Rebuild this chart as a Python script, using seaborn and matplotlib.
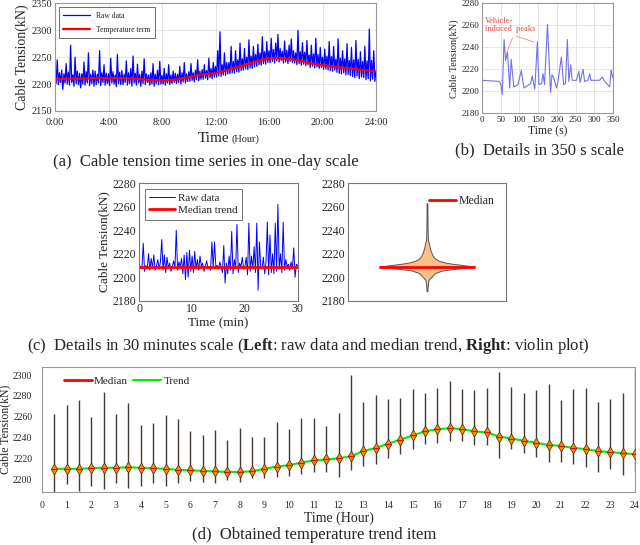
import numpy as np
import seaborn as sns
import matplotlib.pyplot as plt
from matplotlib.lines import Line2D

sns.set_style("white")
plt.rcParams['font.family'] = ['Liberation Serif', 'DejaVu Serif']
plt.rcParams['mathtext.fontset'] = 'custom'
plt.rcParams['mathtext.rm'] = 'Liberation Serif'
plt.rcParams['mathtext.bf'] = 'Liberation Serif:bold'

# ---- (a) one day, 5-minute samples ----
a_raw = [
    2218, 2201, 2245, 2199, 2221, 2203, 2226, 2190, 2219, 2202, 2238, 2200,
    2222, 2198, 2272, 2203, 2217, 2196, 2250, 2201, 2224, 2199, 2220, 2193,
    2219, 2200, 2241, 2198, 2223, 2202, 2258, 2197, 2218, 2201, 2226, 2196,
    2224, 2199, 2218, 2202, 2262, 2197, 2221, 2203, 2236, 2198, 2220, 2201,
    2219, 2197, 2248, 2202, 2223, 2200, 2217, 2195, 2255, 2201, 2222, 2199,
    2225, 2199, 2218, 2203, 2243, 2198, 2221, 2201, 2229, 2196, 2252, 2202,
    2220, 2198, 2237, 2202, 2218, 2196, 2224, 2201, 2247, 2199, 2219, 2203,
    2217, 2198, 2221, 2200, 2238, 2196, 2218, 2201, 2226, 2199, 2242, 2200,
    2216, 2200, 2229, 2198, 2219, 2202, 2236, 2199, 2217, 2201, 2224, 2203,
    2220, 2201, 2218, 2203, 2233, 2200, 2221, 2204, 2240, 2202, 2219, 2205,
    2223, 2205, 2238, 2207, 2221, 2204, 2226, 2208, 2245, 2206, 2224, 2209,
    2227, 2209, 2236, 2211, 2225, 2208, 2248, 2212, 2229, 2210, 2240, 2213,
    2233, 2213, 2262, 2215, 2297, 2214, 2236, 2217, 2258, 2216, 2240, 2219,
    2240, 2219, 2270, 2221, 2242, 2220, 2262, 2223, 2245, 2222, 2276, 2225,
    2247, 2226, 2266, 2228, 2250, 2227, 2282, 2230, 2252, 2229, 2270, 2232,
    2255, 2233, 2274, 2236, 2258, 2235, 2288, 2238, 2260, 2237, 2279, 2240,
    2262, 2240, 2285, 2242, 2264, 2239, 2276, 2243, 2292, 2241, 2266, 2244,
    2261, 2239, 2280, 2241, 2263, 2238, 2272, 2242, 2284, 2240, 2262, 2239,
    2258, 2236, 2300, 2238, 2260, 2235, 2277, 2237, 2259, 2234, 2281, 2236,
    2254, 2231, 2272, 2233, 2256, 2230, 2285, 2232, 2255, 2229, 2268, 2231,
    2250, 2227, 2265, 2228, 2252, 2226, 2279, 2225, 2251, 2224, 2270, 2226,
    2246, 2222, 2284, 2220, 2248, 2219, 2262, 2221, 2247, 2217, 2275, 2218,
    2244, 2216, 2268, 2214, 2245, 2212, 2281, 2215, 2246, 2210, 2260, 2213,
    2242, 2212, 2270, 2208, 2243, 2210, 2302, 2206, 2244, 2209, 2262, 2205,
    2225,
]
a_time = np.arange(len(a_raw)) / 12.0
a_hours = list(range(25))
temp_term = [2209, 2210, 2210, 2211, 2211, 2211, 2210, 2208, 2207, 2208, 2213, 2218, 2220,
             2227, 2234, 2242, 2248, 2248, 2245, 2239, 2235, 2232, 2229, 2226, 2224]
a_tick_labels = ['0:00', '4:00', '8:00', '12:00', '16:00', '20:00', '24:00']

# ---- (b) 350 s detail ----
b_time = [0, 45, 50, 54, 59, 63, 68, 74, 78, 85, 96, 105, 112, 130, 134, 141, 148, 152, 159, 163,
          167, 175, 183, 187, 191, 199, 203, 212, 218, 223, 228, 232, 237, 241, 252, 259, 262, 270,
          274, 283, 288, 291, 314, 321, 328, 341, 345, 347, 350]
b_tension = [2210, 2209, 2207, 2197, 2247, 2228, 2236, 2203, 2229, 2204, 2206, 2219, 2203, 2207,
             2214, 2202, 2245, 2206, 2207, 2216, 2206, 2261, 2199, 2215, 2213, 2203, 2209, 2231,
             2206, 2207, 2247, 2209, 2224, 2210, 2210, 2218, 2208, 2220, 2209, 2210, 2216, 2210,
             2210, 2213, 2209, 2204, 2219, 2216, 2212]

# ---- (c) 30 minute detail, 15 s samples ----
c_raw = [
    2209, 2209, 2207, 2229, 2205, 2210, 2207, 2220, 2206, 2216, 2208, 2219,
    2206, 2210, 2215, 2207, 2213, 2232, 2206, 2219, 2204, 2217, 2208, 2212,
    2205, 2209, 2214, 2208, 2240, 2206, 2213, 2209, 2216, 2203, 2219, 2198,
    2221, 2200, 2223, 2205, 2218, 2204, 2222, 2207, 2215, 2206, 2218, 2209,
    2212, 2205, 2209, 2214, 2208, 2209, 2206, 2230, 2208, 2230, 2209, 2210,
    2207, 2213, 2209, 2204, 2227, 2195, 2212, 2203, 2218, 2206, 2239, 2203,
    2215, 2208, 2245, 2204, 2212, 2209, 2217, 2207, 2209, 2217, 2202, 2246,
    2205, 2218, 2207, 2226, 2204, 2246, 2189, 2230, 2209, 2207, 2217, 2203,
    2213, 2247, 2202, 2236, 2204, 2220, 2203, 2246, 2205, 2262, 2207, 2220,
    2204, 2247, 2206, 2215, 2209, 2211, 2206, 2213, 2207, 2225, 2200, 2211,
    2210,
]
c_time = np.arange(len(c_raw)) * 0.25
c_median = 2209
c_viol_level = [2188, 2193, 2197.8, 2200, 2203.5, 2205.7, 2206.7, 2207.7, 2208.5, 2209, 2209.5,
                2210.5, 2211.5, 2212.5, 2214, 2216, 2218, 2221.8, 2225, 2229, 2231.6, 2240, 2250, 2263]
c_viol_halfwidth = [0.005, 0.01, 0.02, 0.05, 0.1, 0.19, 0.3, 0.44, 0.55, 0.61, 0.55, 0.44, 0.32,
                    0.23, 0.15, 0.1, 0.075, 0.05, 0.035, 0.025, 0.012, 0.008, 0.006, 0.005]

# ---- (d) half-hour violins ----
d_hours = np.arange(1, 49) * 0.5
d_median = [2210, 2210, 2210, 2210.5, 2211, 2211, 2211.5, 2211, 2210.5, 2210,
            2209, 2208.5, 2208, 2207.5, 2207, 2207, 2207.5, 2210, 2212, 2213.5,
            2216, 2218, 2219, 2220, 2222, 2227, 2230, 2234, 2238, 2242,
            2246, 2248, 2249, 2248, 2246, 2245, 2241, 2239, 2237, 2235,
            2233, 2232, 2230, 2229, 2227, 2226, 2225, 2224]
d_max = [2263, 2271, 2276, 2260, 2284, 2263, 2273, 2252, 2254, 2262,
         2258, 2246, 2242, 2247, 2238, 2249, 2241, 2241, 2255, 2248,
         2259, 2259, 2251, 2264, 2300, 2274, 2281, 2277, 2278, 2287,
         2283, 2288, 2294, 2287, 2286, 2288, 2303, 2289, 2283, 2286,
         2291, 2276, 2287, 2288, 2274, 2277, 2283, 2306]
d_min = [2188, 2195, 2189, 2193, 2191, 2196, 2192, 2193, 2196, 2193,
         2196, 2198, 2197, 2196, 2199, 2197, 2201, 2201, 2202, 2203,
         2205, 2207, 2207, 2202, 2209, 2213, 2215, 2220, 2224, 2229,
         2234, 2235, 2237, 2237, 2233, 2233, 2220, 2229, 2225, 2221,
         2217, 2217, 2215, 2212, 2207, 2210, 2204, 2207]

W, H = 640, 545
fig = plt.figure(figsize=(6.4, 5.45), dpi=100)


def box(x0, y0, x1, y1):
    return fig.add_axes([x0 / W, 1 - y1 / H, (x1 - x0) / W, (y1 - y0) / H])


def ftext(x, y, s, **kw):
    fig.text(x / W, 1 - y / H, s, **kw)


def frame(ax, color, size, grid=False):
    for sp in ax.spines.values():
        sp.set_visible(True)
        sp.set_color(color)
        sp.set_linewidth(0.8)
    ax.tick_params(direction='in', length=2.5, width=0.6, color=color, labelsize=size, pad=2)
    if grid:
        ax.grid(True, color='#e2e2e2', lw=0.6)


# (a)
ax = box(55, 3.3, 376, 111)
sns.lineplot(x=a_time, y=a_raw, ax=ax, color='blue', lw=0.9, label='Raw data')
sns.lineplot(x=a_hours, y=temp_term, ax=ax, color='red', lw=1.6, label='Temperature term')
ax.set_xlim(0, 24)
ax.set_ylim(2150, 2350)
ax.set_xticks(range(0, 25, 4))
ax.set_xticklabels(a_tick_labels)
ax.set_yticks(range(2150, 2351, 50))
frame(ax, '#999999', 7.5, grid=True)
ax.tick_params(axis='x', pad=5)
ax.set_xlabel('')
ax.set_ylabel('Cable Tension(kN)', fontsize=10, labelpad=2)
leg = ax.legend(loc='upper left', fontsize=5.5, fancybox=False, edgecolor='black',
                handlelength=3.5, borderaxespad=0.5, labelspacing=0.8, borderpad=0.6)
leg.get_frame().set_linewidth(0.5)
ftext(229, 142, 'Time', ha='right', va='baseline', fontsize=11)
ftext(232, 142, '(Hour)', ha='left', va='baseline', fontsize=7.5)
ftext(53, 162, '(a)  Cable tension time series in one-day scale', va='center', fontsize=12)

# (b)
ax = box(482, 3.3, 613, 113.3)
sns.lineplot(x=b_time, y=b_tension, ax=ax, color='#7373e6', lw=0.8)
ax.set_xlim(0, 350)
ax.set_ylim(2180, 2280)
ax.set_xticks(range(0, 351, 50))
ax.set_yticks(range(2180, 2281, 20))
frame(ax, '#999999', 6.5, grid=True)
ax.set_xlabel('Time (s)', fontsize=8.5, labelpad=1)
ax.set_ylabel('Cable Tension(kN)', fontsize=7.5, labelpad=2)
for i in (6, 16):
    ax.annotate('', xy=(b_time[i] - 2, b_tension[i] - 1), xytext=(84, 2251),
                arrowprops=dict(arrowstyle='-', color='#f08a8a', lw=0.6))
ax.text(8, 2260, 'Vehicle-\ninduced  peaks', color='#e04a4a', fontsize=6, va='center',
        linespacing=1.0)
ftext(455, 150, '(b)  Details in 350 s scale', va='center', fontsize=12)

# (c) left
ax = box(139.3, 183.3, 297.7, 300.7)
sns.lineplot(x=c_time, y=c_raw, ax=ax, color='blue', lw=0.7, label='Raw data')
ax.axhline(c_median, color='red', lw=2, label='Median trend')
ax.set_xlim(0, 30)
ax.set_ylim(2180, 2280)
ax.set_xticks([0, 10, 20, 30])
ax.set_yticks(range(2180, 2281, 20))
frame(ax, '#777777', 8.5)
ax.set_xlabel('Time (min)', fontsize=9.5, labelpad=1)
ax.set_ylabel('Cable Tension(kN)', fontsize=9.5, labelpad=2)
leg = ax.legend(loc='upper left', fontsize=8, fancybox=False, edgecolor='#333333',
                handlelength=2.3, handletextpad=0.3, borderaxespad=0.5, labelspacing=0.2)
leg.get_frame().set_linewidth(0.6)

# (c) right
ax = box(348, 183.3, 506, 300.7)
hw = np.array(c_viol_halfwidth)
ax.fill_betweenx(c_viol_level, -hw, hw, facecolor='#fbbf88', edgecolor='#555555', lw=0.7)
ax.hlines(c_median, -hw.max(), hw.max(), color='red', lw=2)
ax.set_xlim(-1, 1)
ax.set_ylim(2180, 2280)
ax.set_xticks([])
ax.set_yticks(range(2180, 2281, 20))
frame(ax, '#777777', 8.5)
ax.legend(handles=[Line2D([], [], color='red', lw=2)], labels=['Median'], loc='upper right',
          frameon=False, fontsize=8.5, handlelength=2.3, handletextpad=0.2, borderaxespad=0.6)
ftext(27, 346, r'(c)  Details in 30 minutes scale ($\bf{Left}$: raw data and median trend, '
      r'$\bf{Right}$: violin plot)', va='center', fontsize=12)

# (d)
ax = box(42, 367.3, 635, 491.7)
ax.vlines(d_hours, d_min, d_max, color='#443c36', lw=1.0, zorder=1)
sns.lineplot(x=d_hours, y=d_median, ax=ax, color='#00ee00', lw=1.5, zorder=2)
sns.scatterplot(x=d_hours, y=d_median, ax=ax, marker='d', s=30, color='#ff8a00',
                edgecolor='#4a2a00', linewidth=0.5, zorder=3)
ax.plot(d_hours, d_median, ls='none', marker='_', color='red', ms=5, mew=0.8, zorder=4)
ax.set_xlim(0, 24)
ax.set_ylim(2188, 2307.5)
ax.set_xticks(range(25))
ax.set_yticks(range(2200, 2301, 20))
frame(ax, '#999999', 7)
ax.tick_params(axis='both', length=0, pad=7)
ax.set_xlabel('Time (Hour)', fontsize=10, labelpad=1)
ax.set_ylabel('Cable Tension(kN)', fontsize=8.5, labelpad=1)
ax.legend(handles=[Line2D([], [], color='red', lw=2), Line2D([], [], color='#00ee00', lw=1.5)],
          labels=['Median', 'Trend'], loc='center left', bbox_to_anchor=(0.02, 0.89), ncol=2,
          frameon=False, fontsize=8, handlelength=2.5, handletextpad=0.2, columnspacing=0.5)
ftext(192, 535, '(d)  Obtained temperature trend item', va='center', fontsize=12)

fig.savefig('out.png', dpi=100)
